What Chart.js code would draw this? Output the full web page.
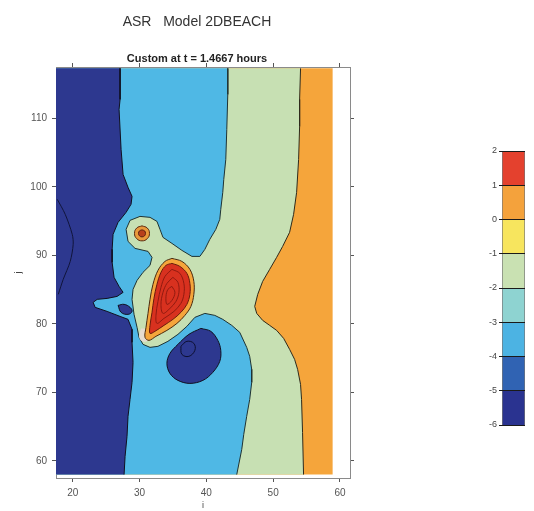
<!DOCTYPE html>
<html><head><meta charset="utf-8">
<script src="https://cdn.jsdelivr.net/npm/chart.js@4.4.1/dist/chart.umd.min.js"></script>
<style>
html,body{margin:0;padding:0;background:#fff;width:534px;height:511px;overflow:hidden}
#main{position:absolute;left:0;top:0}
#cbar{position:absolute;left:462px;top:140px}
</style></head><body>
<canvas id="main" width="394" height="511"></canvas>
<canvas id="cbar" width="66" height="296"></canvas>
<script>
// ---------- data ----------
const titleText = 'ASR   Model 2DBEACH';
const subtitleText = 'Custom at t = 1.4667 hours';
const xLabel = 'i';
const yLabel = 'j';
const xTicks = [20, 30, 40, 50, 60];
const yTicks = [60, 70, 80, 90, 100, 110];
const levels = [-6, -5, -4, -3, -2, -1, 0, 1, 2];
const domainX = [17.5, 58.9];
const domainY = [58.0, 117.3];

// contour boundaries (i, j), top to bottom
const orangeEdge = [[54.10,117.3],[53.96,112.77],[53.96,108.83],[53.81,104.01],[53.51,99.20],[53.06,95.99],[52.46,93.36],[51.42,91.31],[50.52,89.71],[49.48,87.96],[48.43,86.20],[47.69,84.31],[47.24,82.55],[47.54,81.53],[48.43,80.51],[49.48,79.78],[50.52,79.05],[51.57,77.88],[52.46,76.28],[53.21,74.82],[53.66,73.36],[54.10,71.17],[54.25,68.98],[54.40,64.16],[54.55,58.0]];
const blueEdge = [[43.21,117.3],[43.21,113.5],[43.06,108.39],[42.91,104.01],[42.61,101.09],[42.46,99.20],[42.16,96.72],[42.01,95.26],[41.42,93.80],[40.52,92.34],[39.78,90.88],[39.03,89.85],[37.84,89.85],[36.34,90.73],[34.85,91.75],[33.51,92.63],[33.06,93.80],[32.61,94.96],[31.57,95.55],[30.07,95.69],[28.58,95.11],[27.99,93.80],[28.28,92.04],[29.33,91.02],[31.27,90.58],[31.87,89.71],[31.57,88.54],[30.52,87.52],[29.63,86.35],[29.03,85.04],[28.88,83.58],[29.18,81.39],[29.63,79.49],[29.93,78.03],[30.52,77.01],[31.57,76.57],[32.76,76.72],[34.25,77.45],[35.75,78.47],[37.09,79.64],[38.28,80.95],[39.78,81.53],[41.27,81.24],[42.46,80.66],[43.81,79.78],[45.00,78.76],[46.04,76.57],[46.49,75.26],[46.79,73.36],[46.79,71.46],[46.49,68.98],[46.04,66.50],[45.60,63.87],[45.30,61.68],[44.55,58.0]];
const navyEdge = [[27.09,117.3],[27.09,112.77],[26.94,111.31],[27.24,105.47],[27.54,101.82],[28.28,99.93],[28.88,98.61],[28.73,97.45],[27.99,96.28],[26.79,94.82],[26.04,93.07],[25.90,90.88],[25.90,88.98],[26.19,86.79],[26.94,85.47],[27.54,84.60],[26.64,84.01],[25.15,83.72],[23.66,83.58],[23.06,83.14],[23.36,82.41],[25.15,81.82],[27.09,81.09],[28.28,80.66],[28.88,79.20],[28.88,77.30],[29.03,74.38],[28.88,71.46],[28.58,68.98],[28.28,66.50],[28.13,63.58],[27.84,60.66],[27.69,58.0]];
const deepCurve = [[17.69,98.18],[18.88,95.99],[19.93,93.07],[20.07,91.61],[19.63,89.12],[18.58,86.50],[17.84,84.31]];
const navySpot = [[26.79,82.70],[27.69,82.85],[28.58,82.41],[28.88,81.82],[28.28,81.39],[27.24,81.68]];
const lowBlob = [[39.18,79.34],[40.67,78.91],[41.72,77.59],[42.16,76.13],[42.01,74.53],[40.97,72.92],[39.48,71.75],[37.54,71.31],[35.75,71.75],[34.55,72.77],[34.10,74.23],[34.55,75.69],[35.75,77.01],[37.39,78.47]];
const lowBlobCore = [[36.19,76.72],[37.09,77.45],[38.13,77.15],[38.28,76.13],[37.39,75.26],[36.34,75.55]];
const creamPatch = [[30.22,79.34],[30.97,79.20],[31.42,78.18],[31.12,77.45],[30.37,77.45],[29.93,78.18]];
const highOuter = [[34.85,89.56],[36.34,89.12],[37.54,87.96],[38.13,86.20],[38.13,84.31],[37.69,82.55],[36.79,81.24],[35.60,80.07],[34.10,79.05],[32.46,78.18],[31.42,77.59],[30.82,78.03],[30.97,79.49],[31.27,81.53],[31.57,83.58],[32.01,85.77],[32.76,87.81],[33.81,89.12]];
const highInner = [[34.85,88.83],[36.04,88.39],[37.09,87.37],[37.54,85.91],[37.54,84.31],[37.09,82.85],[36.19,81.68],[35.00,80.66],[33.66,79.78],[32.31,78.91],[31.57,78.61],[31.57,79.78],[31.87,81.68],[32.16,83.72],[32.61,85.77],[33.21,87.52],[33.96,88.54]];
const peakC1 = [[34.85,87.96],[36.04,87.37],[36.64,85.91],[36.64,84.31],[36.19,82.99],[35.15,81.82],[33.66,80.80],[32.61,80.07],[32.46,81.24],[32.76,83.28],[33.21,85.33],[33.81,86.93]];
const peakC2 = [[35.00,86.79],[35.75,86.06],[35.90,84.60],[35.45,83.28],[34.55,82.26],[33.51,81.53],[33.21,82.85],[33.51,84.60],[34.10,85.91]];
const peakC3 = [[34.85,85.47],[35.30,84.60],[34.85,83.43],[34.10,82.85],[33.96,84.01],[34.25,85.04]];
const spotRing = [[30.37,94.31],[31.16,93.99],[31.49,93.21],[31.16,92.44],[30.37,92.12],[29.58,92.44],[29.25,93.21],[29.58,93.99]];
const spotCore = [[30.37,93.72],[30.75,93.58],[30.89,93.21],[30.75,92.85],[30.37,92.70],[30.00,92.85],[29.85,93.21],[30.00,93.58]];

// ---------- styles ----------
const FONT = "'Liberation Sans', Arial, sans-serif";
const C = {navy:'#2d388f', sky:'#4fb8e5', green:'#c7e0b3', orange:'#f5a53b', red:'#d8311f', deepRed:'#901a10', cream:'#e6dcd0'};
const cbColors = ['#2a3390','#3063b3','#4cb3e3','#8ed3d1','#c9e1b2','#f7e55e','#f4a23c','#e4412e'];

// ---------- build datasets (painter's order) ----------
const pts = a => a.map(p => ({x: p[0], y: p[1]}));
const closed = a => a.concat([a[0]]);
const [x0, x1] = domainX, [yb, yt] = domainY;
const layers = [];
const fillArea = (a, color) => layers.push({data: pts(a), backgroundColor: color, borderWidth: 0, fill: 'shape', tension: 0});
const line = (a, color, w, t) => layers.push({data: pts(a), borderColor: color, borderWidth: w, fill: false, tension: t || 0});
const blob = (a, color, border, w, t) => layers.push({data: pts(closed(a)), backgroundColor: color, borderColor: border, borderWidth: w, fill: 'shape', tension: t});

fillArea([[x0,yt],[x1,yt],[x1,yb],[x0,yb]], C.orange);
fillArea([[x0,yt]].concat(orangeEdge, [[x0,yb]]), C.green);
line(orangeEdge, '#2e2a1c', 1);
fillArea([[x0,yt]].concat(blueEdge, [[x0,yb]]), C.sky);
line(blueEdge, '#1f3333', 1);
fillArea([[x0,yt]].concat(navyEdge, [[x0,yb]]), C.navy);
line(navyEdge, '#101020', 1);
line(deepCurve, '#10143a', 1, 0.3);
blob(navySpot, C.navy, '#101020', 1, 0.4);
blob(lowBlob, C.navy, '#101020', 1, 0.35);
line(closed(lowBlobCore), '#0c0f30', 1, 0.4);
blob(creamPatch, C.cream, 'rgba(0,0,0,0)', 0, 0.4);
blob(highOuter, C.orange, '#4a2a10', 1, 0.35);
blob(highInner, C.red, '#6a1a0c', 1, 0.35);
line(closed(peakC1), C.deepRed, 1, 0.35);
line(closed(peakC2), C.deepRed, 1, 0.35);
line(closed(peakC3), C.deepRed, 1, 0.35);
blob(spotRing, '#e99a3c', '#5a2a10', 1, 0.45);
blob(spotCore, '#b8401c', '#5a2010', 1, 0.45);

const N = layers.length;
const datasets = layers.map((d, i) => Object.assign(d, {
  showLine: true, pointRadius: 0, pointHoverRadius: 0, order: N - i, xAxisID: 'x', yAxisID: 'y'
}));

const tickFont = {family: FONT, size: 10};
const gridStyle = {drawOnChartArea: false, drawTicks: true, tickLength: 4, color: '#555'};
const borderStyle = {display: true, color: '#8a8a8a', width: 1};
const setTicks = arr => s => { s.ticks = arr.map(v => ({value: v})); };

new Chart(document.getElementById('main'), {
  type: 'scatter',
  data: {datasets},
  options: {
    responsive: false, animation: false, events: [],
    layout: {padding: 0},
    plugins: {
      legend: {display: false}, tooltip: {enabled: false},
      title: {display: true, text: titleText, color: '#333', font: {family: FONT, size: 14, weight: 'normal'}, padding: {top: 14, bottom: 0}},
      subtitle: {display: true, text: subtitleText, color: '#222', font: {family: FONT, size: 11, weight: 'bold'}, padding: {top: 22, bottom: 0}}
    },
    scales: {
      x: {type: 'linear', position: 'bottom', min: 17.5, max: 61.5,
          afterBuildTicks: setTicks(xTicks), afterFit: s => { s.height = 33; },
          ticks: {color: '#555', font: tickFont, padding: 5, maxRotation: 0, autoSkip: false},
          grid: gridStyle, border: borderStyle,
          title: {display: true, text: xLabel, color: '#444', font: {family: FONT, size: 9}, padding: 0}},
      x2: {type: 'linear', position: 'top', min: 17.5, max: 61.5,
          afterBuildTicks: setTicks(xTicks), afterFit: s => { s.height = 1; },
          ticks: {display: false}, grid: gridStyle, border: borderStyle},
      y: {type: 'linear', position: 'left', min: 57.5, max: 117.5,
          afterBuildTicks: setTicks(yTicks), afterFit: s => { s.width = 56; },
          ticks: {color: '#555', font: tickFont, padding: 5, autoSkip: false},
          grid: gridStyle, border: borderStyle,
          title: {display: true, text: yLabel, color: '#444', font: {family: FONT, size: 9}, padding: {top: 13, bottom: 0}}},
      y2: {type: 'linear', position: 'right', min: 57.5, max: 117.5,
          afterBuildTicks: setTicks(yTicks), afterFit: s => { s.width = 44; },
          ticks: {display: false}, grid: gridStyle, border: borderStyle}
    }
  }
});

// ---------- colour bar ----------
const cbDatasets = levels.slice(0, -1).map((lo, i) => ({
  data: [[lo, levels[i + 1]]], backgroundColor: cbColors[i], borderColor: '#777',
  borderWidth: {left: 1, right: 1, top: 0, bottom: 0}, borderSkipped: false, grouped: false,
  barPercentage: 1, categoryPercentage: 1
}));
new Chart(document.getElementById('cbar'), {
  type: 'bar',
  data: {labels: [''], datasets: cbDatasets},
  options: {
    responsive: false, animation: false, events: [],
    layout: {padding: {top: 11, bottom: 11, left: 0, right: 3}},
    plugins: {legend: {display: false}, tooltip: {enabled: false}},
    scales: {
      x: {display: false},
      y: {type: 'linear', position: 'left', min: -6, max: 2,
          afterBuildTicks: setTicks(levels), afterFit: s => { s.width = 40; },
          ticks: {color: '#444', font: {family: FONT, size: 9}, padding: 2, autoSkip: false},
          grid: {drawOnChartArea: true, drawTicks: true, tickLength: 3, color: '#1a1a1a', z: 1},
          border: {display: false}}
    }
  }
});
</script>
</body></html>
